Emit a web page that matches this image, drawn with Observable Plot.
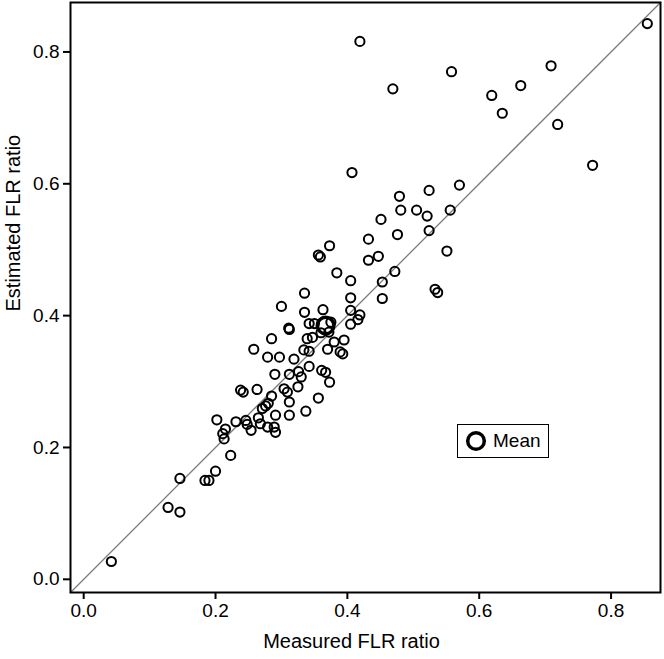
<!DOCTYPE html>
<html><head><meta charset="utf-8">
<script src="https://cdn.jsdelivr.net/npm/d3@7"></script>
<script src="https://cdn.jsdelivr.net/npm/@observablehq/plot@0.6"></script>
<style>
body{margin:0;background:#fff;}
#wrap{position:relative;width:664px;height:659px;font-family:"Liberation Sans",Arial,sans-serif;}
#legend{position:absolute;left:457px;top:424px;width:90px;height:32px;border:1.5px solid #000;background:#fff;display:flex;align-items:center;font-size:19px;color:#000;}
#legend svg{margin-left:6px;margin-right:5px;}
</style></head><body><div id="wrap"></div>
<script>
const measured = [0.855,0.419,0.709,0.558,0.469,0.663,0.619,0.635,0.719,0.772,
0.407,0.570,0.524,0.479,0.481,0.505,0.521,0.556,0.451,0.476,
0.524,0.432,0.373,0.356,0.359,0.447,0.432,0.551,0.384,0.472,
0.405,0.453,0.533,0.537,0.335,0.405,0.453,0.300,0.335,0.363,
0.405,0.419,0.416,0.405,0.311,0.312,0.342,0.350,0.375,0.360,
0.372,0.285,0.258,0.339,0.347,0.370,0.380,0.395,0.389,0.393,
0.334,0.342,0.279,0.297,0.319,0.342,0.290,0.312,0.326,0.330,
0.361,0.367,0.373,0.238,0.242,0.263,0.304,0.309,0.325,0.285,
0.312,0.356,0.280,0.276,0.271,0.265,0.291,0.312,0.337,0.231,
0.246,0.248,0.254,0.268,0.279,0.289,0.291,0.202,0.211,0.215,
0.213,0.223,0.200,0.184,0.190,0.146,0.128,0.146,0.042];
const estimated = [0.843,0.816,0.779,0.770,0.744,0.749,0.734,0.707,0.690,0.628,
0.617,0.598,0.590,0.581,0.560,0.560,0.551,0.560,0.546,0.523,
0.529,0.516,0.506,0.492,0.489,0.490,0.484,0.498,0.465,0.467,
0.453,0.451,0.440,0.435,0.434,0.427,0.426,0.414,0.405,0.409,
0.408,0.401,0.394,0.387,0.381,0.379,0.388,0.388,0.390,0.374,
0.375,0.365,0.349,0.365,0.367,0.349,0.360,0.363,0.345,0.342,
0.348,0.346,0.337,0.337,0.334,0.323,0.311,0.311,0.315,0.307,
0.317,0.314,0.299,0.287,0.284,0.288,0.289,0.284,0.292,0.278,
0.269,0.275,0.267,0.263,0.259,0.245,0.249,0.249,0.255,0.239,
0.241,0.235,0.226,0.236,0.231,0.231,0.223,0.242,0.221,0.228,
0.213,0.188,0.164,0.150,0.150,0.153,0.109,0.102,0.027];
const meanMeasured = [0.367];
const meanEstimated = [0.385];
const axisDomain = [-0.02, 0.875];
const tickValues = [0, 0.2, 0.4, 0.6, 0.8];
const tickLabels = ["0.0", "0.2", "0.4", "0.6", "0.8"];
const xTitle = "Measured FLR ratio";
const yTitle = "Estimated FLR ratio";
const legendLabel = "Mean";

const points = measured.map((x, i) => ({x, y: estimated[i]}));
const means = meanMeasured.map((x, i) => ({x, y: meanEstimated[i]}));
const diag = axisDomain.map(v => ({v}));
const fmt = d => tickLabels[tickValues.indexOf(d)];

const plot = Plot.plot({
  width: 664, height: 659,
  marginLeft: 70, marginTop: 2, marginRight: 4, marginBottom: 67,
  style: {fontFamily: "Liberation Sans, Arial, sans-serif", fontSize: "19px", color: "#000", background: "#fff"},
  x: {domain: axisDomain},
  y: {domain: axisDomain},
  marks: [
    Plot.line(diag, {x: "v", y: "v", stroke: "#7a7a7a", strokeWidth: 1.3}),
    Plot.dot(points, {x: "x", y: "y", r: 4.6, stroke: "#000", strokeWidth: 2, fill: "none"}),
    Plot.dot(means, {x: "x", y: "y", r: 8.3, stroke: "#000", strokeWidth: 3.5, fill: "none"}),
    Plot.frame({stroke: "#000", strokeWidth: 2}),
    Plot.axisX(tickValues, {tickSize: 7, strokeWidth: 2, tickPadding: 4, tickFormat: fmt, label: null, fontSize: 19}),
    Plot.axisY(tickValues, {tickSize: 7, strokeWidth: 2, tickPadding: 4, tickFormat: fmt, label: null, fontSize: 19}),
    Plot.text([xTitle], {text: d => d, frameAnchor: "bottom", dx: -14, dy: 55, fontSize: 20, fill: "#000"}),
    Plot.text([yTitle], {text: d => d, frameAnchor: "left", rotate: -90, dx: -57, dy: 14, fontSize: 20, fill: "#000"})
  ]
});
const wrap = document.getElementById("wrap");
wrap.appendChild(plot);
const leg = document.createElement("div");
leg.id = "legend";
leg.innerHTML = '<svg width="24" height="24"><circle cx="12" cy="12" r="8.3" fill="none" stroke="#000" stroke-width="3.5"></circle></svg><span></span>';
leg.querySelector("span").textContent = legendLabel;
wrap.appendChild(leg);
</script>
</body></html>
